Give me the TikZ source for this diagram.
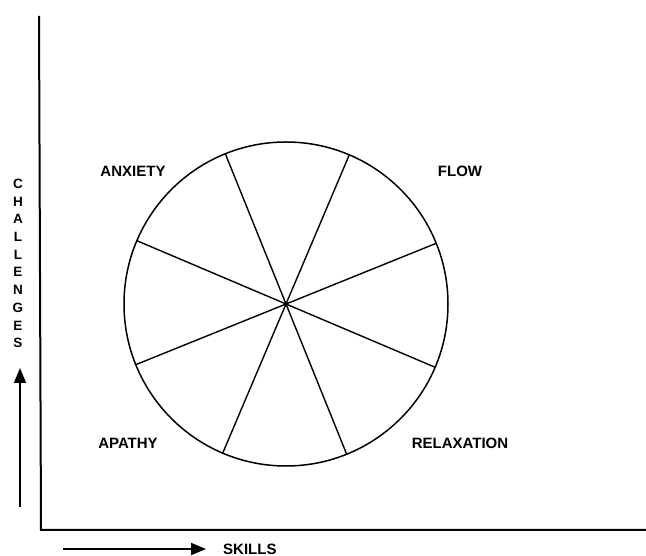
\documentclass[tikz,border=0pt]{standalone}
\usepackage{fontspec}
\setmainfont{Liberation Sans}
\usetikzlibrary{arrows.meta, positioning}

\begin{document}
\begin{tikzpicture}[
		x=1pt, y=1pt,
		lbl/.style={font=\fontsize{15}{17}\selectfont\bfseries, inner sep=1pt},
		axis/.style={line width=2pt},
		pointer/.style={-{Triangle[length=15pt, width=12pt]}, line width=1.8pt},
		spoke/.style={line width=1.4pt}
		]
		\useasboundingbox (0,0) rectangle (646,556);
		% Axes
		\coordinate (top) at (39,540);
		\coordinate (origin) at (41,26);
		\coordinate (end) at (646,26);
		\draw [axis] (top) -- (origin) -- (end);
		
		% Wheel
		\node (wheel) [circle, draw, line width=1.5pt, minimum size=324pt, inner sep=0pt, outer sep=0pt] at (286,252) {};
		\foreach \a in {22.5, 67.5, 112.5, 157.5}
			\draw [spoke] (wheel.\a) -- (wheel.\a+180);
		
		% Labels
		\node (anxiety) [lbl] at (133,385) {ANXIETY};
		\node (flow) [lbl] at (460,385) {FLOW};
		\node (apathy) [lbl] at (128,113) {APATHY};
		\node (relax) [lbl] at (460,113) {RELAXATION};
		
		% Arrows
		\coordinate (ch1) at (20,49);
		\coordinate (ch2) at (20,188);
		\draw [pointer] (ch1) -- (ch2);
		\node (challenges) [font=\fontsize{13.5}{17.7}\selectfont\bfseries, align=center, inner sep=0pt] at (18,292.5) {C\\H\\A\\L\\L\\E\\N\\G\\E\\S};
		
		\coordinate (sk1) at (63,7);
		\coordinate (sk2) at (206,7);
		\draw [pointer] (sk1) -- (sk2);
		\node (skills) [lbl, right=16pt of sk2] {SKILLS};
		
	\end{tikzpicture}
\end{document}
